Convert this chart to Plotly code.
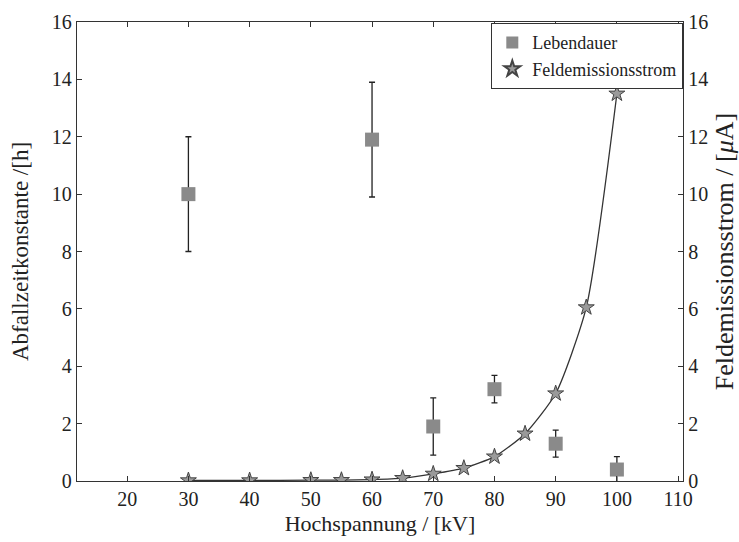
import plotly.graph_objects as go

# Lebensdauer (Abfallzeitkonstante) mit Fehlerbalken
life_kv = [30, 60, 70, 80, 90, 100]
life_h = [10.0, 11.9, 1.9, 3.2, 1.3, 0.4]
life_err = [2.0, 2.0, 1.0, 0.48, 0.47, 0.45]

# Feldemissionsstrom
fe_kv = [30, 40, 50, 55, 60, 65, 70, 75, 80, 85, 90, 95, 100]
fe_ua = [0.02, 0.02, 0.03, 0.03, 0.05, 0.1, 0.25, 0.45, 0.85, 1.65, 3.05, 6.05, 13.5]

x_ticks = [20, 30, 40, 50, 60, 70, 80, 90, 100, 110]
y_ticks = [0, 2, 4, 6, 8, 10, 12, 14, 16]

font = "Liberation Serif, Times New Roman, serif"

fig = go.Figure()
fig.add_trace(go.Scatter(
    x=life_kv, y=life_h, mode="markers", name="Lebendauer",
    marker=dict(symbol="square", size=14, color="#8a8a8a", line=dict(width=0)),
    error_y=dict(type="data", array=life_err, color="#222", thickness=1.3, width=3),
))
# smooth curve through the field emission points
fig.add_trace(go.Scatter(
    x=fe_kv, y=fe_ua, mode="lines", yaxis="y2", showlegend=False, hoverinfo="skip",
    line=dict(color="#333", width=1.3, shape="spline", smoothing=0.6),
))
fig.add_trace(go.Scatter(
    x=fe_kv, y=fe_ua, mode="markers", name="Feldemissionsstrom", yaxis="y2",
    marker=dict(symbol="star", size=12, color="#9a9a9a", line=dict(color="#444", width=1)),
))

axis_common = dict(
    showgrid=False, zeroline=False, showline=True, linecolor="#333", linewidth=1.3,
    ticks="inside", ticklen=5, tickcolor="#333", automargin=False,
    tickfont=dict(family=font, size=20, color="#222"),
)

fig.update_layout(
    width=739, height=542,
    margin=dict(l=77, r=56, t=22, b=61),
    paper_bgcolor="white", plot_bgcolor="white",
    font=dict(family=font, color="#222"),
    xaxis=dict(range=[11.8, 110.8], tickvals=x_ticks, mirror="ticks",
               title=dict(text="Hochspannung / [kV]",
                          font=dict(family=font, size=22, color="#222"), standoff=6),
               **axis_common),
    yaxis=dict(range=[0, 16], tickvals=y_ticks,
               title=dict(text="Abfallzeitkonstante /[h]",
                          font=dict(family=font, size=23, color="#222"), standoff=16),
               **axis_common),
    yaxis2=dict(range=[0, 16], tickvals=y_ticks, overlaying="y", side="right",
                title=dict(text="Feldemissionsstrom / [<i>μ</i>A]",
                           font=dict(family=font, size=26, color="#222"), standoff=10),
                **axis_common),
    legend=dict(x=1.0, y=0.998, xanchor="right", yanchor="top",
                bgcolor="white", bordercolor="#333", borderwidth=1.3,
                font=dict(family=font, size=18, color="#222"),
                itemsizing="constant", tracegroupgap=0),
    showlegend=True,
)

fig.write_html("out.html")
